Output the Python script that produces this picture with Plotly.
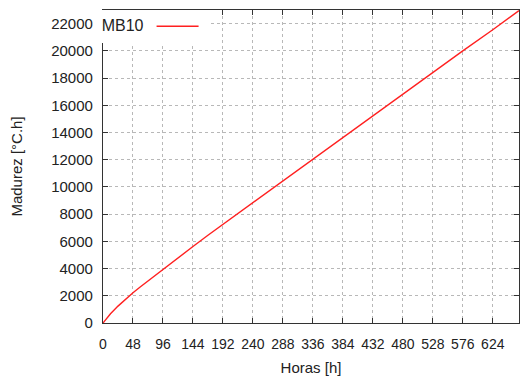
import plotly.graph_objects as go

# Data
horas = [0, 6, 12, 24, 36, 48, 60, 72, 84, 96, 120, 144, 168, 192, 216, 240, 264, 288,
         336, 384, 432, 480, 528, 576, 624, 666]
madurez = [0, 360, 680, 1240, 1750, 2220, 2660, 3090, 3510, 3930, 4780, 5620, 6450,
           7250, 8030, 8800, 9600, 10400, 12050, 13620, 15250, 16800, 18400, 20000,
           21550, 22950]
serie = "MB10"
xticks = [0, 48, 96, 144, 192, 240, 288, 336, 384, 432, 480, 528, 576, 624]
yticks = list(range(0, 22001, 2000))

font = "Liberation Sans, Arial, sans-serif"

fig = go.Figure()
fig.add_trace(go.Scatter(x=horas, y=madurez, mode="lines", name="",
                         line=dict(color="#ff2020", width=1.4), showlegend=True))

axis_common = dict(showline=True, linecolor="#333333", linewidth=1.3, mirror="ticks",
                   ticks="inside", ticklen=5, tickcolor="#333333",
                   showgrid=True, gridcolor="#b8b8b8", griddash="dot", gridwidth=1,
                   zeroline=False, automargin=False)

fig.update_xaxes(range=[0, 666], tickvals=xticks, ticktext=[str(v) for v in xticks],
                 tickfont=dict(family=font, size=14, color="#222"),
                 title=dict(text="Horas [h]", font=dict(family=font, size=15, color="#222"), standoff=11),
                 ticklabelstandoff=8, **axis_common)
fig.update_yaxes(range=[0, 23000], tickvals=yticks, ticktext=[str(v) for v in yticks],
                 tickfont=dict(family=font, size=15, color="#222"),
                 title=dict(text="Madurez [°C.h]", font=dict(family=font, size=15, color="#222"), standoff=24),
                 ticklabelstandoff=6, **axis_common)

fig.update_layout(
    width=520, height=381,
    margin=dict(l=103, r=1, t=10, b=58),
    plot_bgcolor="white", paper_bgcolor="white",
    showlegend=True,
    legend=dict(x=-0.008, y=1, xanchor="left", yanchor="top", bgcolor="white",
                title=dict(text=serie, side="left", font=dict(family=font, size=16, color="#222")),
                font=dict(family=font, size=15), itemwidth=42,
                borderwidth=0, tracegroupgap=0),
)

fig.write_html("out.html", config={"displayModeBar": False},
               post_script="document.body.style.margin='0';document.body.style.overflow='hidden';")
